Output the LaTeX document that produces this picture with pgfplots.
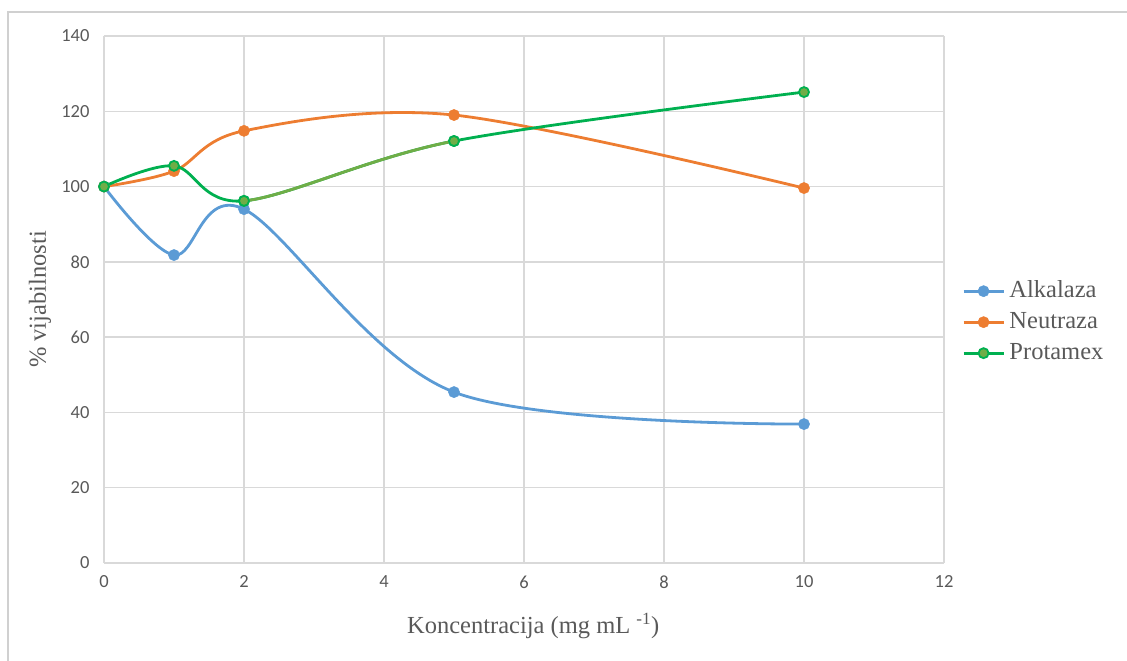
\documentclass[border=0pt]{standalone}
\usepackage{fontspec}
\setmainfont{Liberation Serif}
\newfontfamily\carlito{Carlito}
\usepackage{pgfplots}
\pgfplotsset{compat=1.18}
\definecolor{cblue}{HTML}{5B9BD5}
\definecolor{corange}{HTML}{ED7D31}
\definecolor{cgreen}{HTML}{00B050}
\definecolor{clgreen}{HTML}{70AD47}
\definecolor{gridc}{HTML}{D9D9D9}
\definecolor{textc}{HTML}{595959}
\definecolor{borderc}{HTML}{D0D0D0}

\pgfplotstableread{
x y
0 100
1 81.8
2 94.0
5 45.4
10 36.9
}\alk
\pgfplotstableread{
x y
0 100
1 104.1
2 114.8
5 119.0
10 99.6
}\neu
\pgfplotstableread{
x y
0 100
1 105.5
2 96.2
5 112.1
10 125.1
}\pro

\pgfplotsset{
  common/.style={
    scale only axis,
    ymin=0, ymax=140,
    height=527pt,
  },
}

\begin{document}
\begin{tikzpicture}
\path[use as bounding box] (0pt,0pt) rectangle (1127pt,661pt);
\draw[color=borderc, line width=1.5pt] (8pt,0pt) -- (8pt,649pt) -- (1127pt,649pt);
\begin{axis}[
  common,
  at={(104pt,98pt)}, anchor=south west,
  width=840pt,
  xmin=0, xmax=12,
  xtick={0,2,...,12}, ytick={0,20,...,140},
  grid=major,
  major grid style={color=gridc, line width=1.3pt},
  axis line style={color=gridc, line width=1.3pt},
  axis x line*=bottom, axis y line*=left,
  tick style={draw=none},
  ticklabel style={font=\carlito\fontsize{18.5}{20}\selectfont, text=textc},
  /pgf/number format/assume math mode=true,
  xticklabel style={yshift=-9pt},
  yticklabel style={xshift=-11pt},
  xlabel={Koncentracija (mg mL \textsuperscript{-1})},
  ylabel={\% vijabilnosti},
  label style={font=\fontsize{24.5}{26}\selectfont, text=textc},
  xlabel style={at={(axis description cs:0.511,-0.1195)}, anchor=center},
  ylabel style={at={(axis description cs:-0.0762,0.5)}, anchor=center},
  every axis plot/.append style={line width=2.8pt, smooth, tension=0.55},
  legend style={at={(axis description cs:1.0214,0.457)}, anchor=west, draw=none, fill=none,
    inner sep=0pt, font=\fontsize{24.5}{26}\selectfont, text=textc,
    nodes={text height=17pt, text depth=5pt, inner sep=4.5pt}, row sep=0pt},
  legend cell align=left,
  legend image code/.code={\draw[#1, mark repeat=2, mark phase=2] plot coordinates {(0pt,0pt) (20pt,0pt) (40pt,0pt)};},
]
\addplot[color=cblue, mark=*, mark size=5.6pt, mark options={line width=0.5pt, fill=cblue, draw=cblue}] table {\alk};
\addlegendentry{Alkalaza}
\addplot[color=corange, mark=*, mark size=5.6pt, mark options={line width=0.5pt, fill=corange, draw=corange}] table {\neu};
\addlegendentry{Neutraza}
\addplot[color=cgreen, mark=*, mark size=5.0pt, mark options={line width=1.8pt, fill=clgreen, draw=cgreen}] table {\pro};
\addlegendentry{Protamex}
\end{axis}
\begin{axis}[
  common,
  at={(244pt,98pt)}, anchor=south west,
  width=210pt,
  xmin=2, xmax=5,
  hide axis,
  every axis plot/.append style={line width=2.8pt, smooth, tension=0.55},
]
\addplot[color=clgreen, no marks] table {\pro};
\addplot[only marks, mark=*, mark size=5.0pt, mark options={line width=1.8pt, fill=clgreen, draw=cgreen}] coordinates {(2,96.2) (5,112.1)};
\end{axis}
\end{tikzpicture}
\end{document}
